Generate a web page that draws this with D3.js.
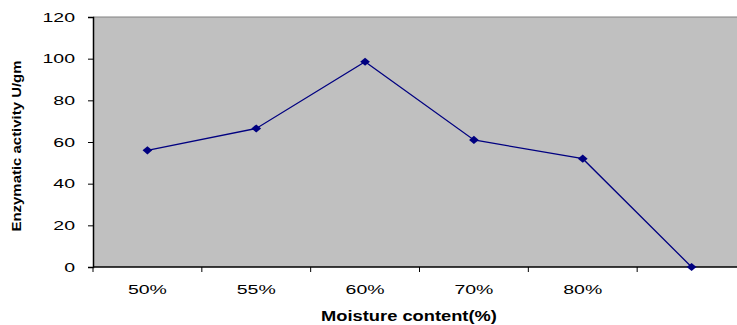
<!DOCTYPE html>
<html>
<head>
<meta charset="utf-8">
<script src="https://cdn.jsdelivr.net/npm/d3@7"></script>
<style>
	body { margin: 0; background: #fff; }
	svg text { font-family: "Liberation Sans", Arial, sans-serif; }
</style>
</head>
<body>
<svg width="737" height="325" id="chart"></svg>
<script>
	// data
	var categories = ["50%", "55%", "60%", "70%", "80%", ""];
	var activity = [56, 66.5, 98.5, 61, 52, 0];
	var yTicks = [0, 20, 40, 60, 80, 100, 120];

	// the original text is drawn wide, so labels get stretched sideways
	var stretch = 1.5;

	var svg = d3.select("svg#chart"),
		margin = { top: 17, right: -9, bottom: 58, left: 93 },
		width = +svg.attr("width") - margin.left - margin.right,
		height = +svg.attr("height") - margin.top - margin.bottom,
		g = svg.append("g").attr("transform", "translate(" + margin.left + "," + margin.top + ")");

	var x = d3.scaleBand()
		.domain(categories.map(function(d, i) { return i; }))
		.range([0, width]);

	var y = d3.scaleLinear()
		.domain([0, 120])
		.range([height, 0]);

	// plot area
	g.append("rect")
		.attr("width", width)
		.attr("height", height)
		.attr("fill", "#c0c0c0");

	g.append("line")
		.attr("x1", 0).attr("x2", width)
		.attr("y1", 0).attr("y2", 0)
		.attr("stroke", "#808080");

	// y axis
	var yAxis = g.append("g")
		.call(d3.axisLeft(y).tickValues(yTicks).tickSize(5));
	yAxis.select(".domain").attr("stroke", "#000").attr("stroke-width", 1.5);
	yAxis.selectAll(".tick text")
		.attr("x", -18 / stretch)
		.attr("transform", "scale(" + stretch + ",1)")
		.attr("font-size", 13)
		.attr("fill", "#000");

	// x axis: ticks sit on the band edges, labels in the middle
	var xAxis = g.append("g")
		.attr("transform", "translate(0," + height + ")");
	xAxis.append("line")
		.attr("x1", 0).attr("x2", width)
		.attr("stroke", "#000").attr("stroke-width", 1.5);
	xAxis.selectAll(".tk")
		.data(categories)
		.enter().append("line")
		.attr("x1", function(d, i) { return x(i); })
		.attr("x2", function(d, i) { return x(i); })
		.attr("y1", 0).attr("y2", 5)
		.attr("stroke", "#000");
	xAxis.selectAll(".lbl")
		.data(categories)
		.enter().append("text")
		.attr("transform", function(d, i) {
			return "translate(" + (x(i) + x.bandwidth() / 2) + ",27) scale(" + stretch + ",1)";
		})
		.attr("text-anchor", "middle")
		.attr("font-size", 13)
		.text(function(d) { return d; });

	// line + diamond markers
	var line = d3.line()
		.x(function(d, i) { return x(i) + x.bandwidth() / 2; })
		.y(function(d) { return y(d); });

	g.append("path")
		.datum(activity)
		.attr("fill", "none")
		.attr("stroke", "#000080")
		.attr("stroke-width", 1.3)
		.attr("d", line);

	g.selectAll(".pt")
		.data(activity)
		.enter().append("path")
		.attr("class", "pt")
		.attr("transform", function(d, i) {
			return "translate(" + (x(i) + x.bandwidth() / 2) + "," + y(d) + ") scale(1.2,1)";
		})
		.attr("d", d3.symbol().type(d3.symbolDiamond2).size(42))
		.attr("fill", "#000080");

	// axis titles
	svg.append("text")
		.attr("transform", "translate(409,321) scale(1.22,1)")
		.attr("text-anchor", "middle")
		.attr("font-size", 15)
		.attr("font-weight", "bold")
		.text("Moisture content(%)");

	svg.append("text")
		.attr("transform", "translate(21,146) rotate(-90) scale(1.15,1)")
		.attr("text-anchor", "middle")
		.attr("font-size", 13)
		.attr("font-weight", "bold")
		.text("Enzymatic activity U/gm");
</script>
</body>
</html>
